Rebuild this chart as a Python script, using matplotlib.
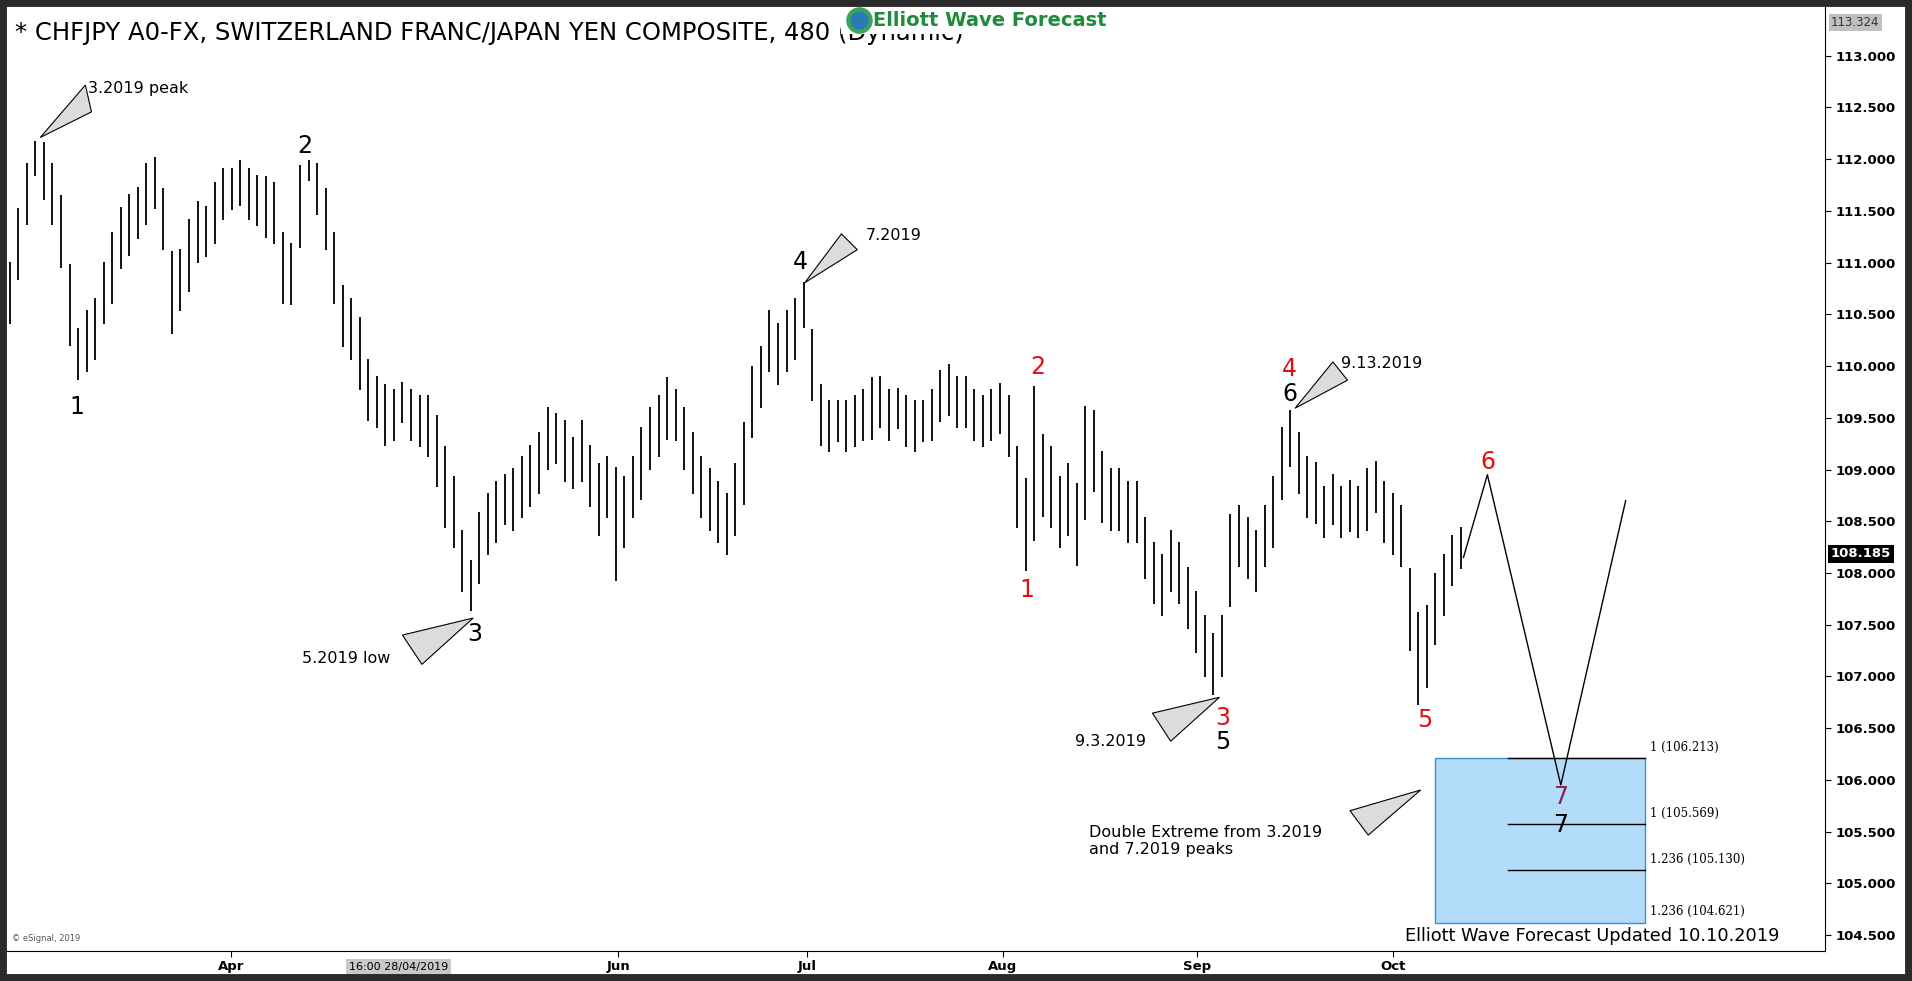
import matplotlib
matplotlib.use("Agg")
import matplotlib.pyplot as plt
from matplotlib.patches import Polygon, Rectangle

mids = [110.71,111.18,111.66,112.01,111.89,111.66,111.30,110.59,110.12,110.24,
        110.36,110.71,110.95,111.24,111.36,111.48,111.66,111.77,111.42,110.71,
        110.83,111.07,111.30,111.30,111.48,111.66,111.71,111.77,111.66,111.60,
        111.54,111.48,110.95,110.89,111.54,111.89,111.71,111.42,110.95,110.48,
        110.36,110.12,109.77,109.65,109.53,109.53,109.65,109.53,109.47,109.42,
        109.18,108.83,108.59,108.12,107.88,108.24,108.47,108.59,108.71,108.71,
        108.83,108.94,109.06,109.30,109.30,109.18,109.06,109.18,108.94,108.71,
        108.83,108.47,108.59,108.83,109.06,109.30,109.42,109.59,109.53,109.30,
        109.06,108.83,108.71,108.59,108.47,108.71,109.06,109.65,109.89,110.24,
        110.12,110.24,110.36,110.59,110.01,109.53,109.42,109.47,109.42,109.47,
        109.53,109.59,109.65,109.53,109.59,109.47,109.42,109.47,109.53,109.71,
        109.77,109.65,109.65,109.53,109.47,109.53,109.59,109.42,108.83,108.47,
        109.06,108.94,108.83,108.59,108.71,108.47,109.06,109.18,108.83,108.71,
        108.71,108.59,108.59,108.24,108.00,107.88,108.12,108.00,107.76,107.53,
        107.29,107.12,107.29,108.12,108.36,108.24,108.12,108.36,108.59,109.06,
        109.30,109.06,108.83,108.77,108.59,108.71,108.59,108.65,108.59,108.71,
        108.83,108.59,108.47,108.36,107.65,107.17,107.29,107.65,107.88,108.12,
        108.24]
half = [0.30,0.35,0.30,0.17,0.28,0.30,0.35,0.40,0.25,0.30,
        0.30,0.30,0.35,0.30,0.30,0.25,0.30,0.25,0.30,0.40,
        0.30,0.35,0.30,0.25,0.30,0.25,0.20,0.22,0.25,0.25,
        0.30,0.30,0.35,0.30,0.40,0.10,0.25,0.30,0.35,0.30,
        0.30,0.35,0.30,0.25,0.30,0.25,0.20,0.25,0.25,0.30,
        0.35,0.40,0.35,0.30,0.25,0.35,0.30,0.30,0.25,0.30,
        0.30,0.30,0.30,0.30,0.25,0.30,0.25,0.30,0.30,0.35,
        0.30,0.55,0.35,0.30,0.35,0.30,0.30,0.30,0.25,0.30,
        0.30,0.30,0.30,0.30,0.30,0.35,0.40,0.35,0.30,0.30,
        0.30,0.30,0.30,0.22,0.35,0.30,0.25,0.20,0.25,0.25,
        0.25,0.30,0.25,0.25,0.20,0.25,0.25,0.20,0.25,0.25,
        0.25,0.25,0.25,0.25,0.25,0.25,0.25,0.30,0.40,0.45,
        0.75,0.40,0.40,0.35,0.35,0.40,0.55,0.40,0.35,0.30,
        0.30,0.30,0.30,0.30,0.30,0.30,0.30,0.30,0.30,0.30,
        0.30,0.30,0.30,0.45,0.30,0.30,0.30,0.30,0.35,0.35,
        0.28,0.30,0.30,0.30,0.25,0.25,0.25,0.25,0.25,0.30,
        0.25,0.30,0.30,0.30,0.40,0.45,0.40,0.35,0.30,0.25,
        0.20]
proj_x = [170.3, 173.1, 181.7, 189.3]
proj_y = [108.15, 108.95, 105.95, 108.70]
month_pos = [25.9, 71.3, 93.4, 116.3, 139.1, 162.1]
month_lab = ["Apr", "Jun", "Jul", "Aug", "Sep", "Oct"]
fib_vals = [106.213, 105.569, 105.130, 104.621]
fib_lab = ["1 (106.213)", "1 (105.569)", "1.236 (105.130)", "1.236 (104.621)"]
last_price = 108.185
high_price = 113.324

W, H = 1568, 805
fig = plt.figure(figsize=(19.12, 9.81), dpi=100, facecolor="white")
ax = fig.add_axes([5/W, 1-780/H, (1497-5)/W, 775/H])
ax.set_xlim(-0.43, 212.7)
ax.set_ylim(104.35, 113.48)

def P(x, y):  # view pixel -> data (for annotation placement)
    return ((x-8)/7, 113.542-0.01179*y)

xs = list(range(len(mids)))
lows = [m-h for m, h in zip(mids, half)]
highs = [m+h for m, h in zip(mids, half)]
ax.vlines(xs, lows, highs, color="black", lw=1.3)
ax.plot(proj_x, proj_y, color="black", lw=1)

x0, _ = P(1177, 0); x1, _ = P(1349, 0); xm, _ = P(1237, 0)
ax.add_patch(Rectangle((x0, fib_vals[3]), x1-x0, fib_vals[0]-fib_vals[3],
                       facecolor="#b3dcfb", edgecolor="#3a8fd0", lw=1, zorder=1))
for v in fib_vals[:3]:
    ax.plot([xm, x1], [v, v], color="black", lw=1, zorder=2)
for v, t in zip(fib_vals, fib_lab):
    ax.text(P(1353, 0)[0], v+0.04, t, fontsize=8.5, family="DejaVu Serif", va="bottom")

def lab(x, y, t, c="black", fs=17):
    ax.text(*P(x, y), t, color=c, fontsize=fs, ha="center", va="center")

lab(63, 334, "1"); lab(250, 120, "2"); lab(389, 520, "3"); lab(656, 215, "4")
lab(851, 301, "2", "#e01010"); lab(842, 484, "1", "#e01010")
lab(1057, 303, "4", "#e01010"); lab(1058, 323, "6")
lab(1003, 589, "3", "#e01010"); lab(1003, 609, "5")
lab(1168, 591, "5", "#e01010"); lab(1220, 379, "6", "#e01010")
lab(1280, 654, "7", "#8b2252"); lab(1280, 677, "7")

def note(x, y, t, ha="left"):
    ax.text(*P(x, y), t, fontsize=11.5, ha=ha, va="center")
note(72, 73, "3.2019 peak"); note(710, 193, "7.2019"); note(1100, 298, "9.13.2019")
note(320, 540, "5.2019 low", "right"); note(940, 608, "9.3.2019", "right")
ax.text(*P(893, 690), "Double Extreme from 3.2019\nand 7.2019 peaks", fontsize=11.5, va="center")
ax.text(*P(1152, 768), "Elliott Wave Forecast Updated 10.10.2019", fontsize=12.8, va="center")

def tri(pts):
    ax.add_patch(Polygon([P(*p) for p in pts], closed=True, facecolor="#dcdcdc",
                         edgecolor="black", lw=0.8, zorder=3))
tri([(33, 113), (70, 70), (75, 92)])
tri([(388, 507), (330, 521), (346, 545)])
tri([(660, 232), (690, 192), (703, 205)])
tri([(1062, 335), (1093, 297), (1105, 312)])
tri([(1000, 572), (945, 585), (960, 608)])
tri([(1165, 648), (1107, 665), (1122, 685)])

ax.text(*P(12, 27), "* CHFJPY A0-FX, SWITZERLAND FRANC/JAPAN YEN COMPOSITE, 480 (Dynamic)",
        fontsize=17.5, va="center", zorder=4)
ax.add_patch(Rectangle(P(690, 28), (897-690)/7, 23*0.01179, facecolor="white",
                       edgecolor="none", zorder=5))
ax.text(*P(716, 17), "Elliott Wave Forecast", fontsize=14, color="#1f8a3c", weight="bold",
        va="center", zorder=6)
ax.scatter(*P(704, 17), s=260, color="#2a7ab8", edgecolors="#3aa655", linewidths=3, zorder=6)

ax.yaxis.tick_right()
yt = [104.5 + 0.5*i for i in range(18)]
ax.set_yticks(yt)
ax.set_yticklabels([f"{v:.3f}" for v in yt], fontsize=9.5, weight="bold")
ax.set_xticks(month_pos)
ax.set_xticklabels(month_lab, fontsize=9.5, weight="bold")
ax.tick_params(length=4, pad=3)
for s in ["top", "left"]:
    ax.spines[s].set_visible(False)
ax.text(1.003, (high_price-104.35)/(113.48-104.35), f"{high_price:.3f}", transform=ax.transAxes,
        fontsize=8.5, va="center", color="#333333", bbox=dict(facecolor="#c0c0c0", edgecolor="none", pad=1.5))
ax.text(1.003, (last_price-104.35)/(113.48-104.35), f"{last_price:.3f}", transform=ax.transAxes,
        fontsize=9.5, weight="bold", va="center", color="white", bbox=dict(facecolor="black", edgecolor="none", pad=2))
ax.text(P(327, 0)[0], -0.012, "16:00 28/04/2019", transform=ax.get_xaxis_transform(),
        fontsize=8, ha="center", va="top", bbox=dict(facecolor="#c8c8c8", edgecolor="none", pad=2))
ax.text(0.003, 0.01, "© eSignal, 2019", transform=ax.transAxes, fontsize=6, color="#555555")

fig.patches.append(Rectangle((0, 0), 1, 1, transform=fig.transFigure, fill=False,
                             edgecolor="#2a2a2a", lw=10))
fig.savefig("out.png", dpi=100)
